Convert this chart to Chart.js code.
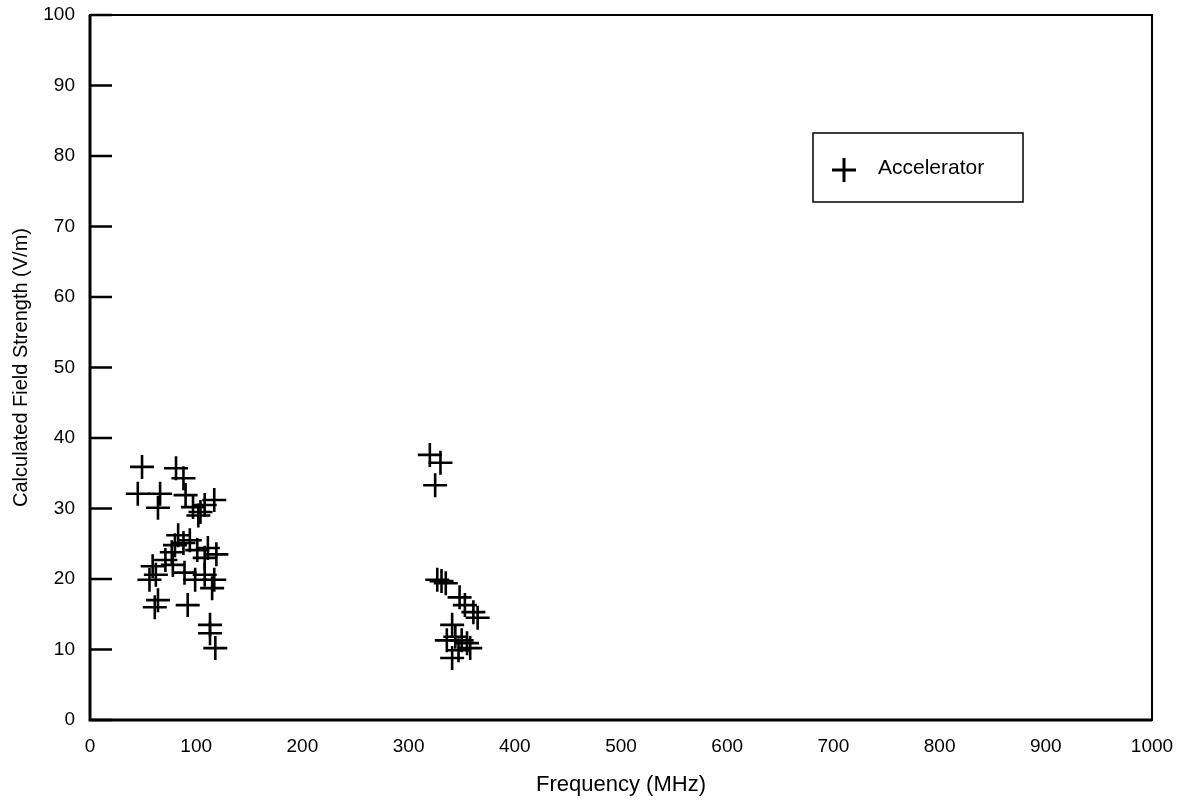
<!DOCTYPE html>
<html>
<head>
<meta charset="utf-8">
<script src="https://cdn.jsdelivr.net/npm/chart.js@4.4.1/dist/chart.umd.min.js"></script>
<style>
  body { margin: 0; background: #fff; }
  #wrap { width: 1184px; height: 800px; }
</style>
</head>
<body>
<div id="wrap"><canvas id="myChart" width="1184" height="800"></canvas></div>
<script>
// data (MHz, V/m)
const seriesName = 'Accelerator';
const freqMHz = [
  49, 45, 64, 66, 81, 88, 90, 97, 104, 108, 102, 117,
  83, 80, 77, 88, 94, 101, 111, 108, 119,
  59, 62, 56, 71, 78, 89, 99, 108, 117, 115,
  64, 61, 92, 113, 113, 118,
  320, 330, 325, 327, 331, 335, 348, 353, 361, 365,
  341, 336, 344, 350, 355, 358, 341, 347
];
const fieldVm = [
  35.9, 32.1, 30.1, 32.1, 35.7, 34.3, 31.9, 30.2, 29.5, 30.5, 29.0, 31.2,
  26.2, 24.8, 23.8, 25.1, 25.5, 24.1, 24.4, 23.0, 23.5,
  21.8, 20.6, 19.9, 22.7, 22.0, 20.9, 19.9, 20.6, 19.9, 18.7,
  17.0, 16.0, 16.3, 13.5, 12.3, 10.2,
  37.6, 36.5, 33.3, 19.9, 19.7, 19.4, 17.4, 16.3, 15.3, 14.5,
  13.5, 11.3, 11.8, 11.3, 10.9, 10.2, 8.8, 9.9
];
const xTicks = [0, 100, 200, 300, 400, 500, 600, 700, 800, 900, 1000];
const yTicks = [0, 10, 20, 30, 40, 50, 60, 70, 80, 90, 100];

const points = freqMHz.map((f, i) => ({ x: f, y: fieldVm[i] }));

// bingkai, tick ke dalam dan legenda
const framePlugin = {
  id: 'frame',
  afterDraw(chart) {
    const { ctx, chartArea: a, scales } = chart;
    ctx.save();
    ctx.strokeStyle = '#000';
    ctx.lineWidth = 2;
    ctx.strokeRect(a.left, a.top, a.right - a.left, a.bottom - a.top);
    ctx.lineWidth = 3;
    ctx.beginPath();
    ctx.moveTo(a.left, a.top);
    ctx.lineTo(a.left, a.bottom);
    ctx.lineTo(a.right, a.bottom);
    ctx.stroke();
    ctx.lineWidth = 2.5;
    ctx.beginPath();
    yTicks.forEach(v => {
      const py = scales.y.getPixelForValue(v);
      ctx.moveTo(a.left, py);
      ctx.lineTo(a.left + 22, py);
    });
    ctx.stroke();

    // legenda
    ctx.fillStyle = '#fff';
    ctx.fillRect(813, 133, 210, 69);
    ctx.lineWidth = 1.5;
    ctx.strokeRect(813, 133, 210, 69);
    ctx.lineWidth = 3;
    ctx.beginPath();
    ctx.moveTo(832, 170); ctx.lineTo(856, 170);
    ctx.moveTo(844, 158); ctx.lineTo(844, 182);
    ctx.stroke();
    ctx.fillStyle = '#000';
    ctx.font = '21px "Liberation Sans", Arial, sans-serif';
    ctx.textBaseline = 'middle';
    ctx.fillText(seriesName, 878, 168);
    ctx.restore();
  }
};

Chart.defaults.font.family = '"Liberation Sans", Arial, sans-serif';
Chart.defaults.font.size = 19;
Chart.defaults.color = '#000';

new Chart(document.getElementById('myChart').getContext('2d'), {
  type: 'scatter',
  data: {
    datasets: [{
      label: seriesName,
      data: points,
      pointStyle: 'cross',
      pointRadius: 12,
      pointHoverRadius: 12,
      borderColor: '#000',
      backgroundColor: '#000',
      pointBorderWidth: 2.6
    }]
  },
  options: {
    responsive: false,
    animation: false,
    layout: { padding: { left: 0, top: 15, right: 32, bottom: 0 } },
    plugins: { legend: { display: false }, tooltip: { enabled: false } },
    scales: {
      x: {
        type: 'linear',
        min: 0, max: 1000,
        afterBuildTicks: s => { s.ticks = xTicks.map(v => ({ value: v })); },
        afterFit: s => { s.height = 80; s.paddingLeft = 0; s.paddingRight = 0; },
        grid: { display: false, drawTicks: false },
        border: { display: false },
        ticks: { padding: 15, maxRotation: 0, callback: v => String(v) },
        title: { display: true, text: 'Frequency (MHz)', font: { size: 22 }, padding: { top: 4, bottom: 2 } }
      },
      y: {
        type: 'linear',
        min: 0, max: 100,
        afterBuildTicks: s => { s.ticks = yTicks.map(v => ({ value: v })); },
        afterFit: s => { s.width = 90; s.paddingTop = 0; s.paddingBottom = 0; },
        grid: { display: false, drawTicks: false },
        border: { display: false },
        ticks: { padding: 15, callback: v => String(v) },
        title: { display: true, text: 'Calculated Field Strength (V/m)', font: { size: 20 }, padding: { top: 9, bottom: 0 } }
      }
    }
  },
  plugins: [framePlugin]
});
</script>
</body>
</html>
